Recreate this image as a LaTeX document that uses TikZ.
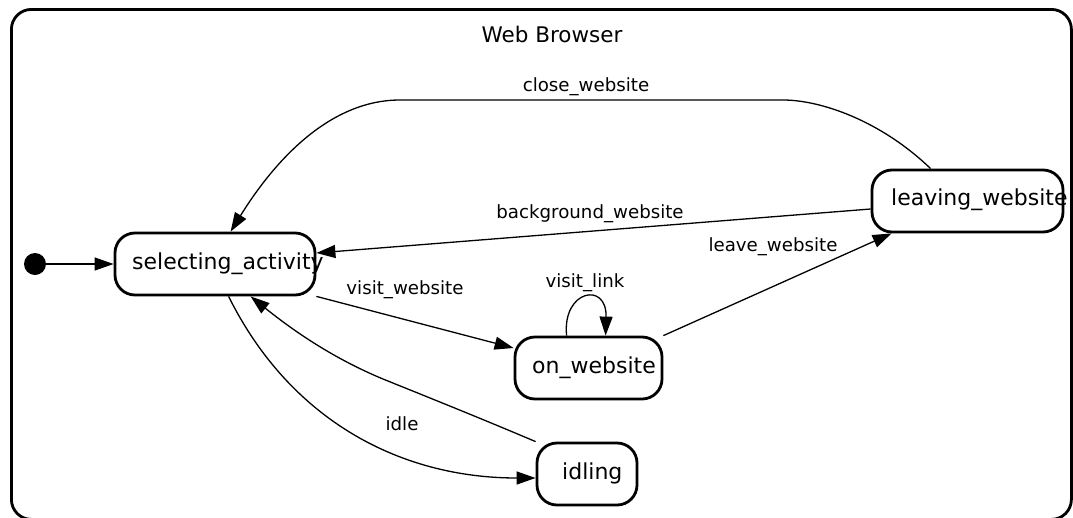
\documentclass[tikz,border=0pt]{standalone}
\usepackage{fontspec}
\setmainfont{DejaVu Sans}
\usetikzlibrary{arrows.meta}
\begin{document}
\begin{tikzpicture}[x=1pt,y=-1pt,
  statebox/.style={draw,line width=2.8pt,rounded corners=20pt,inner sep=0pt},
  statetext/.style={anchor=west,inner sep=0pt,font=\fontsize{22}{26}\selectfont},
  elabel/.style={inner sep=0pt,font=\fontsize{18.2}{22}\selectfont},
  edge/.style={line width=1.3pt,-{Triangle[length=19pt,width=13pt]}}]
\useasboundingbox (0,0) rectangle (1073,517);
\begin{scope}
\clip (0,0) rectangle (1073,517);
\node[draw,line width=2.8pt,rounded corners=20pt,minimum width=1060pt,minimum height=510pt,anchor=north west,inner sep=0pt] (frame) at (10,8) {};
\end{scope}
\node[inner sep=0pt,font=\fontsize{21.5}{25}\selectfont] (title) at (552,34) {Web Browser};
% states
\node[statebox,minimum width=200pt,minimum height=62pt] (sel) at (215,264) {};
\node[statebox,minimum width=147pt,minimum height=62pt] (on) at (588.5,368) {};
\node[statebox,minimum width=191pt,minimum height=62pt] (leave) at (967.5,201) {};
\node[statebox,minimum width=100pt,minimum height=62pt] (idl) at (587,474) {};
\node[statetext] (selt) at (132,264) {selecting\_activity};
\node[statetext] (ont) at (532,368) {on\_website};
\node[statetext] (leavet) at (891,200) {leaving\_website};
\node[statetext] (idlt) at (562,473) {idling};
\node[circle,fill=black,minimum size=22pt,inner sep=0pt] (init) at (35,264) {};
% edges
\draw[edge] (init) -- (sel.west);
\draw[edge] ([xshift=60pt]leave.north west) .. controls (880,120) and (820,100) .. (783,100) -- (400,100) .. controls (330,100) and (275,160) .. ([xshift=117pt]sel.north west);
\draw[edge] ([yshift=-8pt]leave.west) -- ([yshift=11pt]sel.east);
\draw[edge] (on.north east) -- ([xshift=21pt]leave.south west);
\draw[edge] (sel.south east) -- ([yshift=20pt]on.west);
\draw[edge] ([xshift=53pt]on.north west) .. controls (562,290) and (607,281) .. ([xshift=92pt]on.north west);
\draw[edge] ([xshift=115pt]sel.south west) .. controls (290,420) and (400,478) .. ([yshift=-4pt]idl.west);
\draw[edge] (idl.north west) .. controls (480,418) and (430,398) .. (383,379) .. controls (330,357) and (290,328) .. ([xshift=137pt]sel.south west);
% labels
\node[elabel] (lclose) at (586,87) {close\_website};
\node[elabel] (lback) at (590,214) {background\_website};
\node[elabel] (lleave) at (773,247) {leave\_website};
\node[elabel] (lvisit) at (405,290) {visit\_website};
\node[elabel] (llink) at (585,283) {visit\_link};
\node[elabel] (lidle) at (402,424) {idle};
\end{tikzpicture}
\end{document}
